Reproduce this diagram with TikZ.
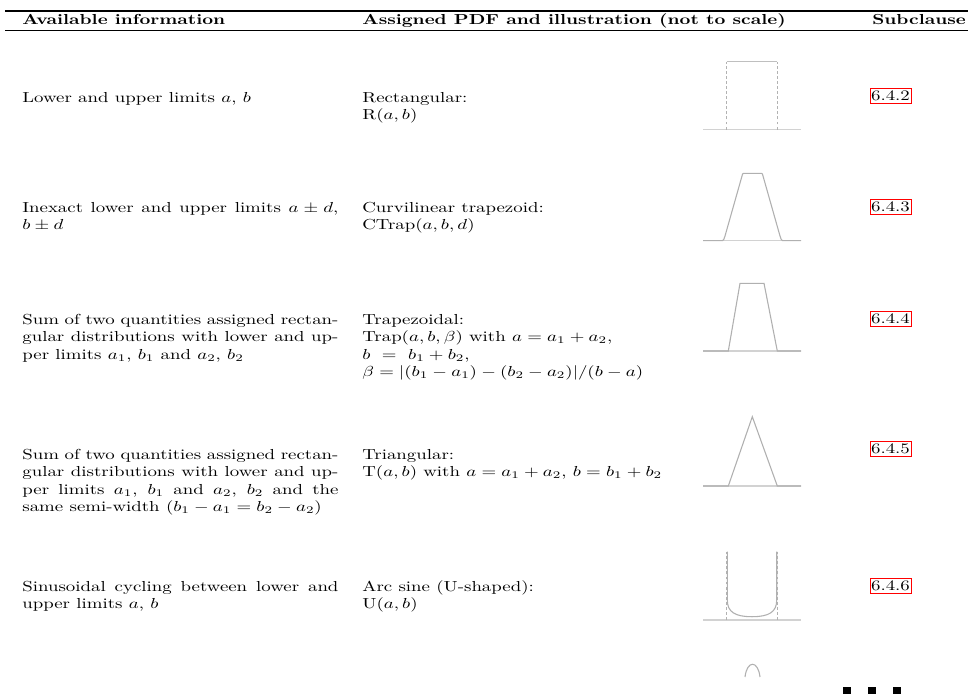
\documentclass[tikz,border=0pt]{standalone}
\usepackage{amsmath}
\newcommand\rowtop{\rule{0pt}{10pt}}
\begin{document}
% one unit = one pixel of the page grid; y runs downward
\begin{tikzpicture}[x=0.6897pt, y=-0.6897pt]
\tikzset{
  wide/.style={xscale=1.3, yscale=1},
  body/.style={wide, font=\fontsize{10}{12.07}\selectfont},
  hdr/.style={wide, anchor=base west, inner sep=0pt, font=\bfseries},
  info/.style={body, anchor=north west, inner sep=0pt, text width=167.7pt, align=justify},
  pdf/.style={body, anchor=north west, inner sep=0pt, text width=200pt, align=left},
  link/.style={body, draw=red, line width=0.6pt, inner sep=0pt,
               minimum width=21.8pt, minimum height=10.3pt},
  axisline/.style={gray!35, line width=0.8pt},
  curve/.style={gray!62, line width=0.75pt},
  guide/.style={gray!60, line width=0.6pt, dash pattern=on 2pt off 1.5pt},
  tablerule/.style={black, line width=#1},
  dotmark/.style={fill=black, draw=none}
}
\useasboundingbox (0,0) rectangle (968,695);

% table rules
\coordinate (rtl) at (5,11);   \coordinate (rtr) at (968,11);
\coordinate (rbl) at (5,30.5); \coordinate (rbr) at (968,30.5);
\draw[tablerule=1pt] (rtl) -- (rtr);
\draw[tablerule=1.3pt] (rbl) -- (rbr);

% header
\node[hdr] (h1) at (22,24) {Available information};
\node[hdr] (h2) at (362,24) {Assigned PDF and illustration (not to scale)};
\node[hdr] (h3) at (872,24) {Subclause};

% column 1: available information (top = baseline - 14.5)
\node[info] (i1) at (22,87.5) {\rowtop Lower and upper limits $a$, $b$};
\node[info] (i2) at (22,197.5) {\rowtop Inexact lower and upper limits $a\pm d$,\linebreak $b\pm d$};
\node[info] (i3) at (22,309.5) {\rowtop Sum of two quantities assigned rectan-\linebreak gular distributions with lower and up-\linebreak per limits $a_1$, $b_1$ and $a_2$, $b_2$};
\node[info] (i4) at (22,444.5) {\rowtop Sum of two quantities assigned rectan-\linebreak gular distributions with lower and up-\linebreak per limits $a_1$, $b_1$ and $a_2$, $b_2$ and the\linebreak same semi-width $(b_1-a_1=b_2-a_2)$};
\node[info] (i5) at (22,576.5) {\rowtop Sinusoidal cycling between lower and\linebreak upper limits $a$, $b$};

% column 2: assigned PDF
\node[pdf] (p1) at (362,87.5) {\rowtop Rectangular:\\ R$(a,b)$};
\node[pdf] (p2) at (362,197.5) {\rowtop Curvilinear trapezoid:\\ CTrap$(a,b,d)$};
\node[pdf] (p3) at (362,309.5) {\rowtop Trapezoidal:\\ Trap$(a,b,\beta)$ with $a=a_1+a_2$,\\ $b\ =\ b_1+b_2$,\\ $\beta=|(b_1-a_1)-(b_2-a_2)|/(b-a)$};
\node[pdf] (p4) at (362,444.5) {\rowtop Triangular:\\ T$(a,b)$ with $a=a_1+a_2$, $b=b_1+b_2$};
\node[pdf] (p5) at (362,576.5) {\rowtop Arc sine (U-shaped):\\ U$(a,b)$};

% column 3: subclause references
\node[link] (s1) at (890.5,95.5) {6.4.2};
\node[link] (s2) at (890.5,207) {6.4.3};
\node[link] (s3) at (890.5,319) {6.4.4};
\node[link] (s4) at (890.5,449) {6.4.5};
\node[link] (s5) at (890.5,586) {6.4.6};

% illustration: rectangular
\draw[axisline] (703,129.5) -- (801,129.5);
\draw[guide] (726.7,129.5) -- (726.7,61.7);
\draw[guide] (777.3,129.5) -- (777.3,61.7);
\draw[curve, gray!50] (726.7,61.7) -- (777.3,61.7);

% illustration: curvilinear trapezoid
\draw[axisline] (703,240.7) -- (801,240.7);
\draw[curve] (703,240.7) -- (722.5,240.7)
  .. controls (723.5,240.7) and (724,239) .. (725,236)
  -- (742,176) .. controls (742.4,174.5) and (742.6,173.3) .. (743.5,173.3)
  -- (761.5,173.3) .. controls (762.4,173.3) and (762.6,174.5) .. (763,176)
  -- (780,236) .. controls (781,239) and (781.5,240.7) .. (782.5,240.7)
  -- (801,240.7);

% illustration: trapezoidal
\draw[axisline] (703,351) -- (801,351);
\draw[curve] (703,351) -- (728.3,351) -- (740,283.3) -- (764,283.3)
  -- (777.3,351) -- (801,351);

% illustration: triangular
\draw[axisline] (703,486) -- (801,486);
\draw[curve] (703,486) -- (728.3,486) -- (752.3,416.7) -- (777.3,486) -- (801,486);

% illustration: arc sine
\draw[axisline] (703,620) -- (801,620);
\draw[guide] (726.7,620) -- (726.7,551.7);
\draw[guide] (777.3,620) -- (777.3,551.7);
\draw[curve] (727.3,551.7) -- (727.3,600)
  .. controls (727.3,612) and (735,616.7) .. (752,616.7)
  .. controls (769,616.7) and (776.7,612) .. (776.7,600)
  -- (776.7,551.7);

% top of the next illustration
\draw[curve] (745,677) .. controls (747,660) and (758,660) .. (760,677);

% continuation marks
\fill[dotmark] (843.3,686.7) rectangle (850.7,694);
\fill[dotmark] (868.3,686.7) rectangle (875.7,694);
\fill[dotmark] (893.3,686.7) rectangle (900.7,694);
\end{tikzpicture}
\end{document}
